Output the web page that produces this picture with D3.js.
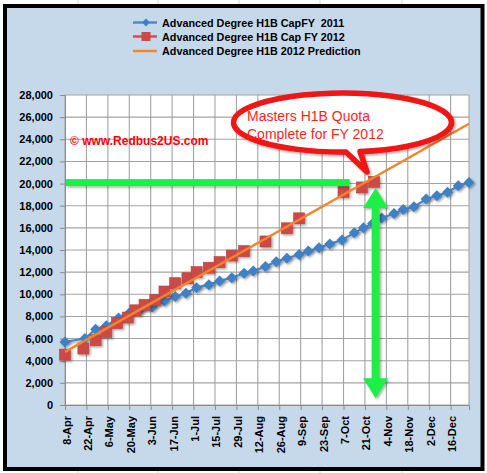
<!DOCTYPE html>
<html><head><meta charset="utf-8">
<script src="https://cdn.jsdelivr.net/npm/d3@7"></script>
<style>
body{margin:0;background:#fff;}
svg{display:block;font-family:"Liberation Sans",Arial,sans-serif;}
</style>
</head><body><svg id="c" width="487" height="473"></svg>
<script>
// ---------- data ----------
const xTickDates = ["2011-04-08","2011-04-22","2011-05-06","2011-05-20","2011-06-03","2011-06-17","2011-07-01","2011-07-15","2011-07-29","2011-08-12","2011-08-26","2011-09-09","2011-09-23","2011-10-07","2011-10-21","2011-11-04","2011-11-18","2011-12-02","2011-12-16"];
const yTickValues = [0,2000,4000,6000,8000,10000,12000,14000,16000,18000,20000,22000,24000,26000,28000];
const fy2011Dates = ["2011-04-08","2011-04-21","2011-04-28","2011-05-05","2011-05-13","2011-05-20","2011-05-27","2011-06-04","2011-06-12","2011-06-19","2011-06-26","2011-07-03","2011-07-11","2011-07-18","2011-07-26","2011-08-03","2011-08-09","2011-08-17","2011-08-24","2011-08-31","2011-09-08","2011-09-14","2011-09-21","2011-09-28","2011-10-06","2011-10-14","2011-10-20","2011-10-26","2011-11-01","2011-11-09","2011-11-15","2011-11-22","2011-11-30","2011-12-07","2011-12-14","2011-12-21","2011-12-28"];
const fy2011Values = [5700,6000,6850,7150,7850,8300,8600,8850,9400,9800,10100,10600,10870,11200,11500,11900,12100,12500,12950,13250,13600,13900,14200,14550,14900,15550,16000,16400,16900,17300,17650,17900,18600,18900,19220,19800,20100];
const fy2012Dates = ["2011-04-08","2011-04-20","2011-04-28","2011-05-05","2011-05-12","2011-05-19","2011-05-24","2011-05-30","2011-06-06","2011-06-12","2011-06-19","2011-06-27","2011-07-03","2011-07-11","2011-07-18","2011-07-26","2011-08-03","2011-08-17","2011-08-31","2011-09-08","2011-10-07","2011-10-19","2011-10-27"];
const fy2012Values = [4550,5100,5850,6600,7400,7900,8550,9050,9500,10250,11000,11450,12000,12400,12900,13500,13900,14770,15960,16860,19250,19650,20150];
const predictionDates = ["2011-04-08","2011-12-28"];
const predictionValues = [4800,25400];
const seriesNames = ["Advanced Degree H1B CapFY  2011","Advanced Degree H1B Cap FY 2012","Advanced Degree H1B 2012 Prediction"];
const calloutLines = ["Masters H1B Quota","Complete for FY 2012"];
const watermark = "\u00A9 www.Redbus2US.com";
const quotaValue = 20000;
const quotaLineEnd = "2011-10-11";
const arrowDate = "2011-10-28";
const arrowRange = [19600, 600];

// ---------- setup ----------
const parse = d3.utcParse("%Y-%m-%d");
const svg = d3.select("#c");
const W = 487, H = 473;
const plot = {left: 65, right: 469, top: 95, bottom: 405};

const x = d3.scaleUtc().domain([parse("2011-04-08"), parse("2011-12-28")]).range([plot.left, plot.right]);
const y = d3.scaleLinear().domain([0, 28000]).range([plot.bottom, plot.top]);

const defs = svg.append("defs");
const f = defs.append("filter").attr("id","sh").attr("x","-50%").attr("y","-50%").attr("width","200%").attr("height","200%");
f.append("feDropShadow").attr("dx",1.5).attr("dy",1.5).attr("stdDeviation",1).attr("flood-color","#000").attr("flood-opacity",0.35);

// spreadsheet grid behind the chart
const gridX = [78,158,239,320,402];
svg.append("g").selectAll("line").data(gridX).join("line")
  .attr("x1",d=>d).attr("x2",d=>d).attr("y1",0).attr("y2",H)
  .attr("stroke","#d4d4d4").attr("stroke-width",1);

// chart area
svg.append("rect").attr("x",5).attr("y",6).attr("width",477.5).attr("height",463)
  .attr("fill","#c6d9ea").attr("stroke","#000").attr("stroke-width",4);

// plot area
svg.append("rect").attr("x",plot.left).attr("y",plot.top).attr("width",plot.right-plot.left).attr("height",plot.bottom-plot.top).attr("fill","#fff");

// gridlines
const tickDates = xTickDates.map(parse);
svg.append("g").selectAll("line").data(tickDates.concat([x.domain()[1]])).join("line")
  .attr("x1",d=>x(d)).attr("x2",d=>x(d)).attr("y1",plot.top).attr("y2",plot.bottom)
  .attr("stroke","#a3a3a3").attr("stroke-width",1.1);
svg.append("g").selectAll("line").data(yTickValues).join("line")
  .attr("x1",plot.left).attr("x2",plot.right).attr("y1",d=>y(d)).attr("y2",d=>y(d))
  .attr("stroke","#a3a3a3").attr("stroke-width",1.1);

// axes
const yAxis = svg.append("g").attr("transform",`translate(${plot.left},0)`)
  .call(d3.axisLeft(y).tickValues(yTickValues).tickFormat(d3.format(",")).tickSize(5).tickPadding(7));
yAxis.selectAll("text").attr("font-size",11).attr("font-weight","bold").attr("fill","#000").attr("font-family","Liberation Sans, Arial, sans-serif");
yAxis.selectAll("line,path").attr("stroke","#8c8c8c");

const xAxis = svg.append("g").attr("transform",`translate(0,${plot.bottom})`)
  .call(d3.axisBottom(x).tickValues(tickDates).tickFormat(d3.utcFormat("%-d-%b")).tickSize(5));
xAxis.selectAll("text").attr("font-size",11).attr("font-weight","bold").attr("fill","#000")
  .attr("font-family","Liberation Sans, Arial, sans-serif")
  .attr("transform","rotate(-90)").attr("x",-11).attr("y",5).attr("dy",0).style("text-anchor","end");
xAxis.selectAll("line,path").attr("stroke","#8c8c8c");

// series
const s2011 = fy2011Dates.map((d,i)=>({d:parse(d), v:fy2011Values[i]}));
const s2012 = fy2012Dates.map((d,i)=>({d:parse(d), v:fy2012Values[i]}));
const sPred = predictionDates.map((d,i)=>({d:parse(d), v:predictionValues[i]}));
const line = d3.line().x(p=>x(p.d)).y(p=>y(p.v));

const blue = "#3f80c4", red = "#cc4a46", orange = "#f5832a";
const diamond = "M0,-5.5L5.5,0L0,5.5L-5.5,0Z";

svg.append("path").datum(s2011).attr("d",line).attr("fill","none").attr("stroke","#4a86c8").attr("stroke-width",2.2).attr("filter","url(#sh)");
svg.append("g").attr("filter","url(#sh)").selectAll("path").data(s2011).join("path")
  .attr("d",diamond).attr("transform",p=>`translate(${x(p.d)},${y(p.v)})`).attr("fill",blue);

svg.append("g").attr("filter","url(#sh)").selectAll("rect").data(s2012).join("rect")
  .attr("x",p=>x(p.d)-5.5).attr("y",p=>y(p.v)-5.5).attr("width",11).attr("height",11)
  .attr("fill",red).attr("stroke","#b8403c").attr("stroke-width",0.6);

svg.append("path").datum(sPred).attr("d",line).attr("fill","none").attr("stroke",orange).attr("stroke-width",2.4);

// green quota line and arrow
const green = "#1ef046";
const gy = y(quotaValue);
svg.append("rect").attr("x",plot.left+1).attr("y",gy-4.5).attr("width",x(parse(quotaLineEnd))-plot.left-1).attr("height",7)
  .attr("fill",green).attr("filter","url(#sh)");
const ax = x(parse(arrowDate)), at = y(arrowRange[0]), ab = y(arrowRange[1]);
const hw = 12.5, sw = 4, hh = 20;
svg.append("path").attr("d",
  `M${ax},${at} L${ax+hw},${at+hh} L${ax+sw},${at+hh} L${ax+sw},${ab-hh} L${ax+hw},${ab-hh} L${ax},${ab} L${ax-hw},${ab-hh} L${ax-sw},${ab-hh} L${ax-sw},${at+hh} L${ax-hw},${at+hh} Z`)
  .attr("fill",green).attr("filter","url(#sh)");

// callout
const cx = 342.5, cy = 122.5, rx = 109, ry = 29.5;
const p1x = 360, p2x = 346;
const py = v => cy + ry*Math.sqrt(1-((v-cx)/rx)**2);
svg.append("path").attr("d",
  `M${p1x},${py(p1x)} L367,172 L${p2x},${py(p2x)} A${rx},${ry} 0 1,1 ${p1x},${py(p1x)} Z`)
  .attr("fill","#fff").attr("stroke","#f01414").attr("stroke-width",5.5).attr("stroke-linejoin","round").attr("filter","url(#sh)");
svg.append("g").selectAll("text").data(calloutLines).join("text")
  .attr("x",247).attr("y",(d,i)=>121+i*17.5).attr("font-size",14).attr("fill","#ff1f1f").text(d=>d);

// watermark
svg.append("text").attr("x",70).attr("y",145).attr("font-size",12).attr("font-weight","bold").attr("fill","#ff0000").text(watermark);

// legend
const lg = svg.append("g");
const rows = [22.5, 36.5, 51];
const colors = ["#4f86c6","#cc4d4a",orange];
seriesNames.forEach((name,i)=>{
  const g = lg.append("g").attr("transform",`translate(0,${rows[i]})`);
  g.append("line").attr("x1",133).attr("x2",157).attr("y1",0).attr("y2",0).attr("stroke",colors[i]).attr("stroke-width",2.4);
  if(i===0) g.append("path").attr("d","M0,-4L4,0L0,4L-4,0Z").attr("transform","translate(146,0)").attr("fill",blue);
  if(i===1) g.append("rect").attr("x",141.5).attr("y",-4.5).attr("width",9).attr("height",9).attr("fill",red);
  g.append("text").attr("x",162).attr("y",4).attr("font-size",10.8).attr("font-weight","bold").attr("fill","#000")
    .style("white-space","pre").text(name);
});
</script>
</body></html>
